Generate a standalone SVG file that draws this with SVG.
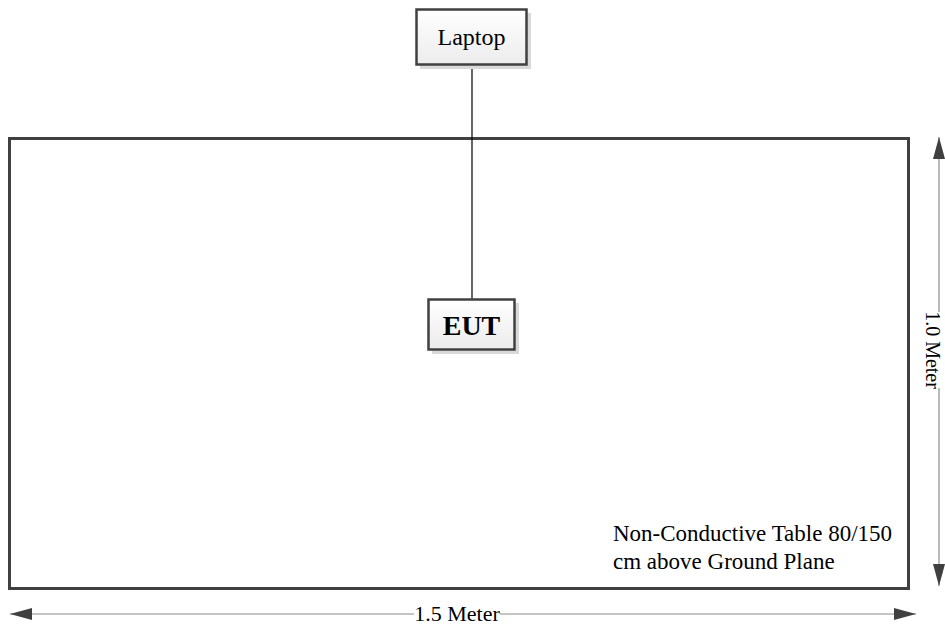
<svg xmlns="http://www.w3.org/2000/svg" width="945" height="627" viewBox="0 0 945 627">
<style>
.box{stroke:#404040;stroke-width:2.5;fill:url(#g)}
.sh{fill:#d9d9d9}
.t{font-family:"Liberation Serif",serif;fill:#000}
.dim{stroke:#8c8c8c;stroke-width:1.2;fill:none}
</style>
<defs>
<linearGradient id="g" x1="0" y1="0" x2="0" y2="1">
<stop offset="0" stop-color="#ffffff"/>
<stop offset="1" stop-color="#ececec"/>
</linearGradient>
<marker id="ah" viewBox="0 0 10 10" refX="10" refY="5" markerWidth="22" markerHeight="12" markerUnits="userSpaceOnUse" orient="auto-start-reverse" preserveAspectRatio="none">
<path d="M0,0 L10,5 L0,10 Z" fill="#404040"/>
</marker>
</defs>
<rect width="945" height="627" fill="#fff"/>
<g id="table">
<rect x="9.5" y="138.5" width="899" height="450" fill="none" stroke="#404040" stroke-width="3"/>
<text class="t" x="613" y="541" font-size="23">Non-Conductive Table 80/150</text>
<text class="t" x="613" y="569" font-size="23">cm above Ground Plane</text>
</g>
<g id="connectors">
<line x1="472" y1="65" x2="472" y2="299" stroke="#000" stroke-width="1.2"/>
</g>
<g id="laptop">
<rect class="sh" x="420" y="13" width="111" height="56"/>
<rect class="box" x="416.5" y="9.5" width="110" height="55"/>
<text class="t" x="471.5" y="45" font-size="24" text-anchor="middle">Laptop</text>
</g>
<g id="eut">
<rect class="sh" x="432" y="303" width="87" height="51"/>
<rect class="box" x="428.5" y="299.5" width="86" height="50"/>
<text class="t" x="471.5" y="335" font-size="28" font-weight="bold" text-anchor="middle">EUT</text>
</g>
<g id="dimensions">
<line class="dim" x1="939" y1="137" x2="939" y2="312" marker-start="url(#ah)"/>
<line class="dim" x1="939" y1="388" x2="939" y2="586" marker-end="url(#ah)"/>
<text class="t" font-size="20" text-anchor="middle" transform="translate(926,350) rotate(90)">1.0 Meter</text>
<line class="dim" x1="10" y1="614" x2="414" y2="614" marker-start="url(#ah)"/>
<line class="dim" x1="500" y1="614" x2="916" y2="614" marker-end="url(#ah)"/>
<text class="t" x="457" y="621" font-size="22" text-anchor="middle">1.5 Meter</text>
</g>
</svg>
